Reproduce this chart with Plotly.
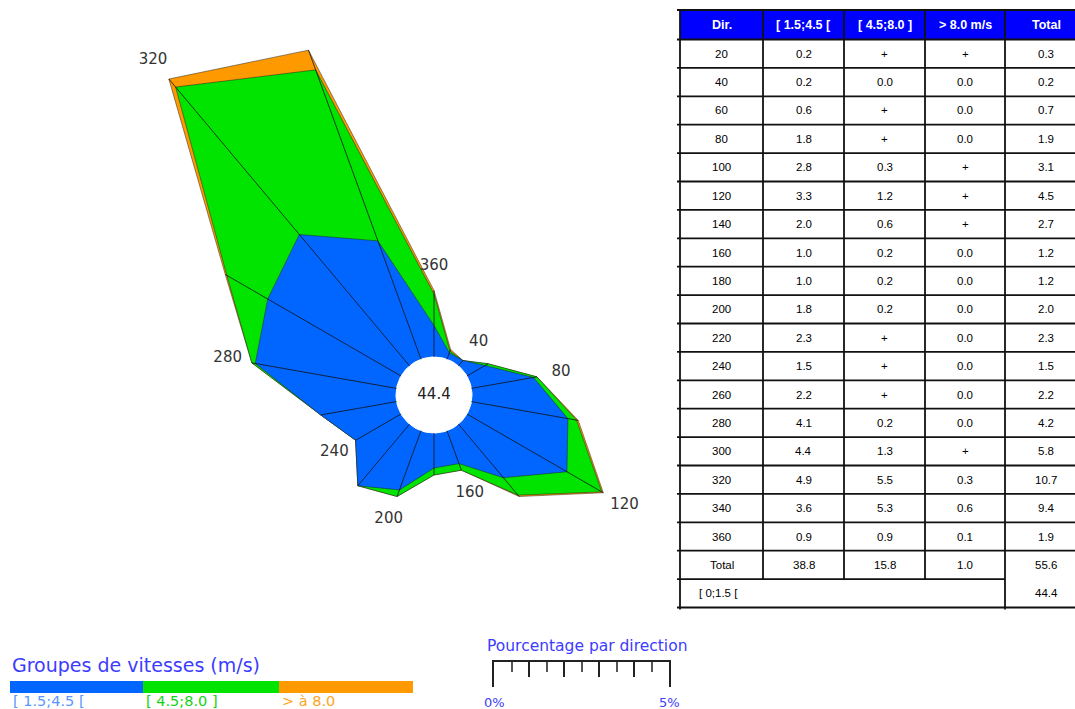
import numpy as np
import plotly.graph_objects as go

# ---- data -----------------------------------------------------------------
directions = [20, 40, 60, 80, 100, 120, 140, 160, 180, 200, 220, 240, 260, 280, 300, 320, 340, 360]
speed_low = ["0.2", "0.2", "0.6", "1.8", "2.8", "3.3", "2.0", "1.0", "1.0", "1.8", "2.3", "1.5", "2.2", "4.1", "4.4", "4.9", "3.6", "0.9"]
speed_mid = ["+", "0.0", "+", "+", "0.3", "1.2", "0.6", "0.2", "0.2", "0.2", "+", "+", "+", "0.2", "1.3", "5.5", "5.3", "0.9"]
speed_high = ["+", "0.0", "0.0", "0.0", "+", "+", "+", "0.0", "0.0", "0.0", "0.0", "0.0", "0.0", "0.0", "+", "0.3", "0.6", "0.1"]
totals = ["0.3", "0.2", "0.7", "1.9", "3.1", "4.5", "2.7", "1.2", "1.2", "2.0", "2.3", "1.5", "2.2", "4.2", "5.8", "10.7", "9.4", "1.9"]
column_totals = ["Total", "38.8", "15.8", "1.0", "55.6"]
calm_label = "[ 0;1.5 ["
calm_pct = "44.4"
header = ["Dir.", "[ 1.5;4.5 [", "[ 4.5;8.0 ]", "> 8.0 m/s", "Total"]
class_labels = ["[ 1.5;4.5 [", "[ 4.5;8.0 ]", "> à 8.0"]
class_colors = ["#0066ff", "#00e400", "#ff9900"]
class_text_colors = ["#5a96ff", "#14d214", "#ffa31a"]
label_dirs = [40, 80, 120, 160, 200, 240, 280, 320, 360]
scale_max = 5

TRACE = 0.05  # value drawn for "+" (non-zero but below 0.05 %)


def num(v):
    return TRACE if v == "+" else float(v)


low = np.array([num(v) for v in speed_low])
high = np.array([num(v) for v in speed_high])
tot = np.array([float(v) for v in totals])
mid_cum = tot - high

# ---- page geometry (pixels) -----------------------------------------------
W, H = 1075, 709
CX, CY = 434, 395          # rose centre
PX_PER_PCT = 35            # radial scale, px per percent
HOLE = 38 / PX_PER_PCT     # calm circle radius, in percent units

BLUE_TXT = "#3c3cff"


def px(x):
    return x / W


def py(y):
    return 1 - y / H


def to_xy(r, deg):
    """Compass bearing (clockwise from north) + radius -> plane coordinates."""
    rad = np.deg2rad(np.asarray(deg, dtype=float))
    rho = HOLE + np.asarray(r, dtype=float)
    return rho * np.sin(rad), rho * np.cos(rad)


fig = go.Figure()

dirs_closed = directions + directions[:1]

# stacked speed classes, outermost first
for radii, color in [(tot, class_colors[2]), (mid_cum, class_colors[1]), (low, class_colors[0])]:
    xs, ys = to_xy(np.append(radii, radii[0]), dirs_closed)
    fig.add_trace(go.Scatter(
        x=xs, y=ys, xaxis="x2", yaxis="y2", mode="lines", fill="toself",
        fillcolor=color, line=dict(color="rgba(30,30,30,0.7)", width=0.7),
        hoverinfo="skip", showlegend=False))

# calm circle
ring = np.arange(0, 361, 3)
xs, ys = to_xy(np.zeros(len(ring)), ring)
fig.add_trace(go.Scatter(
    x=xs, y=ys, xaxis="x2", yaxis="y2", mode="lines", fill="toself",
    fillcolor="white", line=dict(color="white", width=1),
    hoverinfo="skip", showlegend=False))

# radial spokes from the calm circle to each direction's total
sx, sy = [], []
for d, t in zip(directions, tot):
    x0, y0 = to_xy(0, d)
    x1, y1 = to_xy(t, d)
    sx += [float(x0), float(x1), None]
    sy += [float(y0), float(y1), None]
fig.add_trace(go.Scatter(
    x=sx, y=sy, xaxis="x2", yaxis="y2", mode="lines",
    line=dict(color="#111111", width=0.8), connectgaps=False,
    hoverinfo="skip", showlegend=False))

# direction labels just beyond each labelled spoke
lab_tot = [tot[directions.index(d)] + 0.7 for d in label_dirs]
lx, ly = to_xy(lab_tot, label_dirs)
fig.add_trace(go.Scatter(
    x=lx, y=ly, xaxis="x2", yaxis="y2", mode="text", text=[str(d) for d in label_dirs],
    textfont=dict(family="DejaVu Sans", size=15, color="#333333"),
    cliponaxis=False, hoverinfo="skip", showlegend=False))

# calm percentage in the centre
fig.add_trace(go.Scatter(
    x=[0], y=[0], xaxis="x2", yaxis="y2", mode="text", text=[calm_pct],
    textfont=dict(family="DejaVu Sans", size=15, color="#222222"),
    cliponaxis=False, hoverinfo="skip", showlegend=False))

annotations = []
shapes = []


def note(x, y, text, size, color, family="DejaVu Sans", xanchor="center", xref="paper"):
    annotations.append(dict(
        x=x, y=y, xref=xref, yref="paper", xanchor=xanchor, yanchor="middle",
        text=text, showarrow=False, font=dict(family=family, size=size, color=color)))


# ---- speed-class legend ----------------------------------------------------
note(px(10), py(665), "Groupes de vitesses (m/s)", 19, BLUE_TXT, xanchor="left")
leg_edges = [10, 143, 279, 413]
for i, (lab, col, tcol) in enumerate(zip(class_labels, class_colors, class_text_colors)):
    shapes.append(dict(type="rect", xref="paper", yref="paper",
                       x0=px(leg_edges[i]), x1=px(leg_edges[i + 1]), y0=py(693), y1=py(681),
                       fillcolor=col, line=dict(width=0), layer="above"))
    note(px(leg_edges[i] + 1), py(700.5), lab, 14.5, tcol, xanchor="left")

# ---- percentage scale bar (same px-per-% as the rose) ---------------------
SB_X0, SB_TOP, SB_BOT = 494, 662, 687
note(px(SB_X0 + scale_max * PX_PER_PCT / 2 + 5), py(646), "Pourcentage par direction", 15.5, BLUE_TXT)
for v in [0, scale_max]:
    note(v, py(702), f"{v}%", 13, BLUE_TXT, xref="x")

# ---- data table -------------------------------------------------------------
col_edges = [680, 763, 844, 925, 1005, 1087]
TOP, HEAD_BOT, ROW_H = 10, 39.5, 28.4
n_rows = len(directions) + 2
row_edges = [TOP, HEAD_BOT] + [HEAD_BOT + ROW_H * k for k in range(1, n_rows + 1)]
LINE = dict(color="#111111", width=1.8)

shapes.append(dict(type="rect", xref="paper", yref="paper",
                   x0=px(col_edges[0]), x1=px(col_edges[-1]), y0=py(HEAD_BOT), y1=py(TOP),
                   fillcolor="#0000ff", line=dict(width=0), layer="above"))
for k, y in enumerate(row_edges):
    x1 = col_edges[4] if k == len(row_edges) - 2 else col_edges[-1]
    shapes.append(dict(type="line", xref="paper", yref="paper",
                       x0=px(677), x1=px(x1), y0=py(y), y1=py(y), line=LINE, layer="above"))
for j, x in enumerate(col_edges[:-1]):
    y_end = row_edges[-2] if j in (1, 2, 3) else row_edges[-1] + 2
    shapes.append(dict(type="line", xref="paper", yref="paper",
                       x0=px(x), x1=px(x), y0=py(TOP), y1=py(y_end), line=LINE, layer="above"))

centers = [(a + b) / 2 for a, b in zip(col_edges[:-1], col_edges[1:])]
centers[-1] = 1046


def cell(j, row, text, color="#000000", bold=False, size=11.5):
    yc = (row_edges[row] + row_edges[row + 1]) / 2
    note(px(centers[j]), py(yc), f"<b>{text}</b>" if bold else text, size, color,
         family="Liberation Sans")


for j, h in enumerate(header):
    cell(j, 0, h, color="white", bold=True, size=12.5)
rows = list(zip([str(d) for d in directions], speed_low, speed_mid, speed_high, totals))
rows.append(tuple(column_totals))
for i, row in enumerate(rows):
    for j, v in enumerate(row):
        cell(j, i + 1, v)
calm_row = len(rows) + 1
yc = (row_edges[calm_row] + row_edges[calm_row + 1]) / 2
note(px(697), py(yc), calm_label, 11.5, "#000000", family="Liberation Sans", xanchor="left")
cell(4, calm_row, calm_pct)

fig.update_layout(
    width=W, height=H,
    margin=dict(l=0, r=0, t=0, b=0),
    paper_bgcolor="white", plot_bgcolor="rgba(0,0,0,0)",
    showlegend=False,
    # rose plane: 1 unit = 1 percent, equal scale on both axes
    xaxis2=dict(domain=[0, 1], range=[-CX / PX_PER_PCT, (W - CX) / PX_PER_PCT],
                visible=False, fixedrange=True),
    yaxis2=dict(domain=[0, 1], range=[-(H - CY) / PX_PER_PCT, CY / PX_PER_PCT],
                visible=False, fixedrange=True, anchor="x2"),
    xaxis=dict(domain=[px(SB_X0), px(SB_X0 + scale_max * PX_PER_PCT)], range=[0, scale_max],
               side="top", showline=True, linecolor="#222222", linewidth=1.5,
               ticks="inside", tick0=0, dtick=1, ticklen=15, tickcolor="#222222", tickwidth=1.5,
               minor=dict(dtick=0.5, tick0=0, ticks="inside", ticklen=10,
                          tickcolor="#555555", tickwidth=1.5, showgrid=False),
               showgrid=False, zeroline=False, showticklabels=False, fixedrange=True),
    yaxis=dict(domain=[py(SB_BOT), py(SB_TOP)], range=[0, 1], showline=True, mirror=True,
               linecolor="#222222", linewidth=1.5, showgrid=False, zeroline=False,
               showticklabels=False, ticks="", fixedrange=True),
    annotations=annotations,
    shapes=shapes,
)

fig.write_html("out.html")
